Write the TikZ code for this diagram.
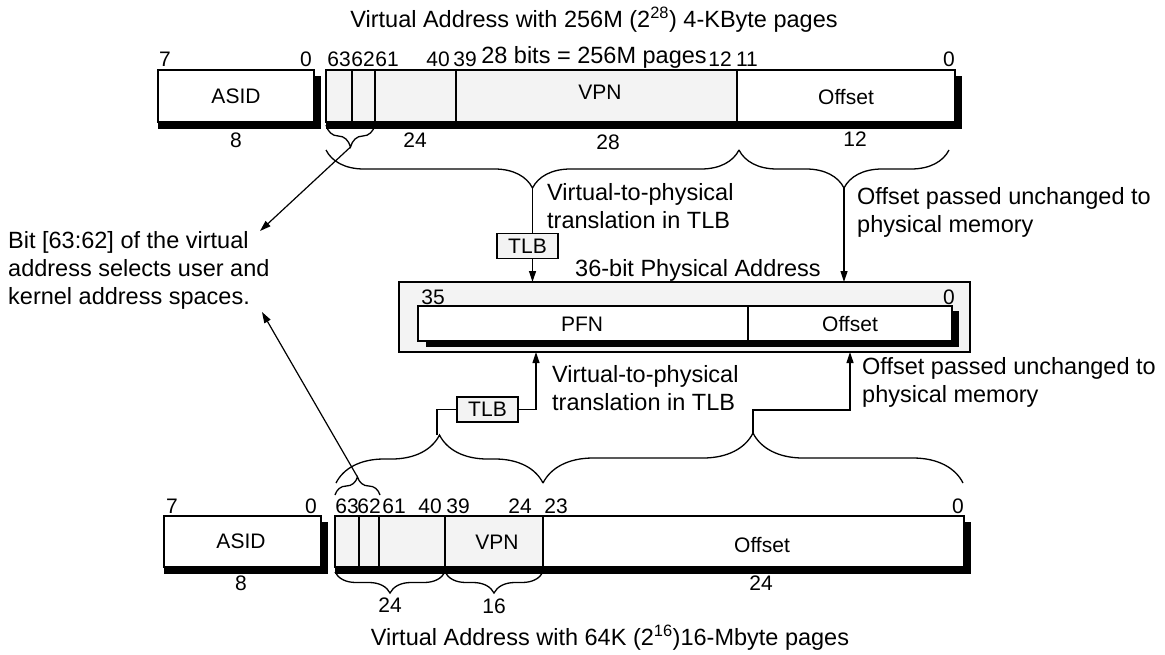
\documentclass[tikz,border=0pt]{standalone}
\usepackage{fontspec}
\setmainfont{Liberation Sans}
\usetikzlibrary{decorations.pathreplacing,arrows.meta}
\definecolor{fieldgray}{HTML}{F3F3F3}
\tikzset{
 lbl/.style={font=\fontsize{21}{25}\selectfont, inner sep=0pt},
 ann/.style={font=\fontsize{23.5}{28}\selectfont, inner sep=0pt, align=left},
 fieldline/.style={draw, line width=1.1pt},
 brc/.style={decorate, decoration={brace, amplitude=#1}, line width=1.3pt},
 brcm/.style={decorate, decoration={brace, mirror, amplitude=#1}, line width=1.3pt},
 arr/.style={-{Triangle[length=11pt,width=7pt]}, line width=1.2pt},
 wire/.style={line width=1.2pt},
 tlbbox/.style={draw, fill=fieldgray, line width=1.1pt, minimum width=61pt, minimum height=25pt, inner sep=0pt, font=\fontsize{21}{25}\selectfont},
}
\begin{document}
\begin{tikzpicture}[x=1pt,y=-1pt]
\useasboundingbox (0,0) rectangle (1165,654);

% ===== Top virtual address =====
\node[ann] (capA) at (594,20) {Virtual Address with 256M (2\textsuperscript{28}) 4-KByte pages};
% ASID
\fill (158,76) rectangle (321,129);
\draw[fieldline, fill=white] (158,70) rectangle (314,122);
\node[lbl] (asidA) at (236,96) {ASID};
\node[lbl] (a7) at (165,59) {7};
\node[lbl] (a0) at (306,59) {0};
\node[lbl] (a8) at (236,140) {8};
% main
\fill (326,76) rectangle (962,129);
\draw[fieldline, fill=fieldgray] (326,70) rectangle (737,122);
\draw[fieldline, fill=white] (737,70) rectangle (955,122);
\draw[fieldline] (352,70) -- (352,122) (375,70) -- (375,122) (456,70) -- (456,122);
\node[lbl] (b63) at (339,59) {63};
\node[lbl] (b62) at (363,59) {62};
\node[lbl] (b61) at (387,59) {61};
\node[lbl] (b40) at (438,59) {40};
\node[lbl] (b39) at (465,59) {39};
\node[ann] (bits28) at (594,57) {28 bits = 256M pages};
\node[lbl] (b12) at (720,59) {12};
\node[lbl] (b11) at (747,59) {11};
\node[lbl] (b0) at (949,59) {0};
\node[lbl] (vpnA) at (600,92) {VPN};
\node[lbl] (offA) at (846,97) {Offset};
\node[lbl] (w24A) at (415,140) {24};
\node[lbl] (w28A) at (608,142) {28};
\node[lbl] (w12A) at (855,139) {12};
% braces
\draw[brcm=22] (326,125) -- (375,125);
\coordinate (tipSA) at (350.5,147);
\draw[brcm=38] (326,150) -- (739,150);
\coordinate (tipVA) at (532.5,188);
\draw[brcm=38] (739,150) -- (949,150);
\coordinate (tipOA) at (844,188);

% ===== Note text =====
\node[ann, anchor=west] (note) at (8,270) {Bit [63:62] of the virtual\\address selects user and\\kernel address spaces.};
\coordinate (noteTop) at (260,231);
\coordinate (noteBot) at (262,312);
\draw[arr] (tipSA) -- (noteTop);

% ===== Physical address =====
\draw[line width=1.1pt, fill=fieldgray] (399,282) rectangle (970,352);
\coordinate (physTopV) at (532.5,282);
\coordinate (physTopO) at (844,282);
\coordinate (physBotV) at (536,352);
\coordinate (physBotO) at (850,352);
\fill (426,311) rectangle (959,347);
\draw[fieldline, fill=white] (418,306) rectangle (748,341);
\draw[fieldline, fill=white] (748,306) rectangle (952,341);
\node[lbl] (pfn) at (582,324) {PFN};
\node[lbl] (offP) at (850,324) {Offset};
\node[lbl] (p35) at (433,297) {35};
\node[lbl] (p0) at (949,297) {0};
\node[ann] (capP) at (698,270) {36-bit Physical Address};

% upper connectors
\node[tlbbox] (tlbA) at (527.5,246) {TLB};
\draw[wire] (tipVA) -- (tipVA |- tlbA.north);
\draw[arr] (tipVA |- tlbA.south) -- (physTopV);
\node[ann, anchor=west] (v2pA) at (547,206) {Virtual-to-physical\\translation in TLB};
\draw[arr] (tipOA) -- (physTopO);
\node[ann, anchor=west] (opA) at (857,212) {Offset passed unchanged to\\physical memory};

% ===== Bottom virtual address =====
\draw[brc=48] (336,483) -- (543,483);
\coordinate (tipVB) at (437,435);
\draw[brc=50] (543,483) -- (963,483);
\coordinate (tipOB) at (753,433);
\draw[brc=18] (335,495) -- (380,495);
\coordinate (tipSB) at (357.5,477);
\draw[arr] (tipSB) -- (noteBot);

\node[tlbbox] (tlbB) at (487.5,409.5) {TLB};
\draw[wire] (tipVB) -- (tipVB |- tlbB.west) -- (tlbB.west);
\coordinate (bendV) at (physBotV |- tlbB.east);
\draw[arr] (tlbB.east) -- (bendV) -- (physBotV);
\node[ann, anchor=west] (v2pB) at (552,388) {Virtual-to-physical\\translation in TLB};
\coordinate (bendO1) at (753,410);
\coordinate (bendO2) at (850,410);
\draw[arr] (tipOB) -- (bendO1) -- (bendO2) -- (physBotO);
\node[ann, anchor=west] (opB) at (862,382) {Offset passed unchanged to\\physical memory};

% ASID
\fill (164,522) rectangle (328,574);
\draw[fieldline, fill=white] (164,516) rectangle (321,567);
\node[lbl] (asidB) at (241,541) {ASID};
\node[lbl] (c7) at (172,506) {7};
\node[lbl] (c0) at (311,506) {0};
\node[lbl] (c8) at (241,583) {8};
% main
\fill (335,522) rectangle (971,574);
\draw[fieldline, fill=fieldgray] (335,516) rectangle (543,567);
\draw[fieldline, fill=white] (543,516) rectangle (964,567);
\draw[fieldline] (359,516) -- (359,567) (379,516) -- (379,567) (445,516) -- (445,567);
\node[lbl] (d63) at (347,506) {63};
\node[lbl] (d62) at (369,506) {62};
\node[lbl] (d61) at (394,506) {61};
\node[lbl] (d40) at (430,506) {40};
\node[lbl] (d39) at (458,506) {39};
\node[lbl] (d24) at (520,506) {24};
\node[lbl] (d23) at (556,506) {23};
\node[lbl] (d0) at (958,506) {0};
\node[lbl] (vpnB) at (497,542) {VPN};
\node[lbl] (offB) at (762,545) {Offset};
\node[lbl] (w24C) at (761,583) {24};
\draw[brcm=21] (335,572) -- (445,572);
\draw[brcm=21] (445,572) -- (543,572);
\node[lbl] (w24B) at (390,605) {24};
\node[lbl] (w16B) at (494,606) {16};
\node[ann] (capB) at (610,638) {Virtual Address with 64K (2\textsuperscript{16})16-Mbyte pages};
\end{tikzpicture}
\end{document}
